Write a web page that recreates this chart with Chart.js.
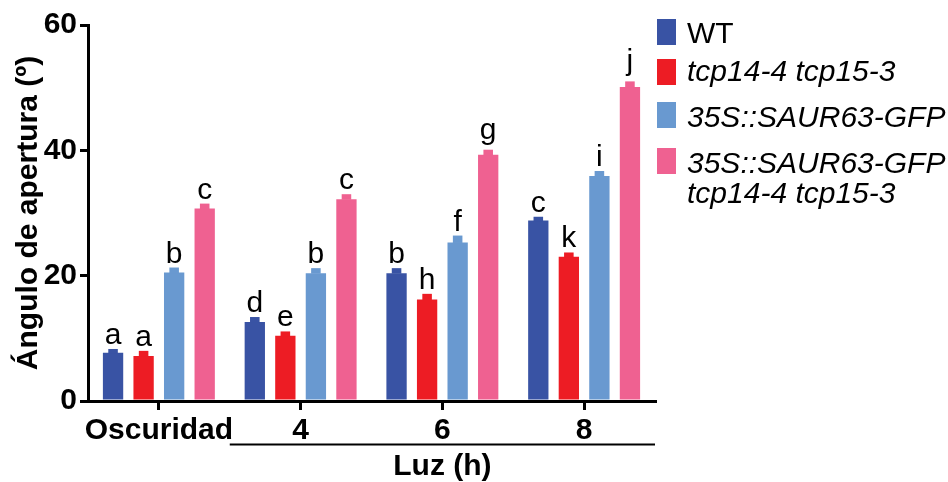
<!DOCTYPE html>
<html>
<head>
<meta charset="utf-8">
<script src="https://cdn.jsdelivr.net/npm/chart.js@4"></script>
<style>
  html, body { margin: 0; padding: 0; background: #fff; }
  #wrap { width: 948px; height: 482px; position: relative; }
</style>
</head>
<body>
<div id="wrap"><canvas id="bars"></canvas></div>
<script>
const categories = ["Oscuridad", "4", "6", "8"];

const wtValues = [7.7, 12.6, 20.4, 28.8];
const wtErr = [0.6, 0.8, 0.8, 0.6];
const wtLetters = ["a", "d", "b", "c"];

const tcpValues = [7.2, 10.4, 16.2, 23.0];
const tcpErr = [0.8, 0.7, 0.9, 0.7];
const tcpLetters = ["a", "e", "h", "k"];

const saurValues = [20.5, 20.4, 25.3, 35.9];
const saurErr = [0.8, 0.8, 1.1, 0.8];
const saurLetters = ["b", "b", "f", "i"];

const saurTcpValues = [30.7, 32.2, 39.3, 50.1];
const saurTcpErr = [0.8, 0.8, 0.8, 0.9];
const saurTcpLetters = ["c", "c", "g", "j"];

const legendLabels = [
  { lines: ["WT"], italic: false },
  { lines: ["tcp14-4 tcp15-3"], italic: true },
  { lines: ["35S::SAUR63-GFP"], italic: true },
  { lines: ["35S::SAUR63-GFP", "tcp14-4 tcp15-3"], italic: true },
];

const colors = ["#3953a4", "#ed1c24", "#6999d0", "#ef6191"];
const FONT = "'Liberation Sans', Arial, sans-serif";

const ctx = document.getElementById("bars");

function series(label, data, err, letters, i) {
  return {
    label,
    data,
    err,
    letters,
    backgroundColor: colors[i],
    borderWidth: 0,
    categoryPercentage: 0.862,
    barPercentage: 0.665,
  };
}

// caps of the error bars + significance letters
const marks = {
  id: "marks",
  afterDatasetsDraw(chart) {
    const c = chart.ctx;
    const y = chart.scales.y;
    c.save();
    chart.data.datasets.forEach((ds, i) => {
      chart.getDatasetMeta(i).data.forEach((bar, j) => {
        const v = ds.data[j];
        const top = y.getPixelForValue(v + ds.err[j]);
        const base = y.getPixelForValue(v);
        const hw = bar.width * 0.235;
        c.fillStyle = ds.backgroundColor;
        c.fillRect(bar.x - hw, top, hw * 2, base - top + 0.5);

        c.font = "30px " + FONT;
        c.fillStyle = "#000";
        c.textAlign = "center";
        c.textBaseline = "alphabetic";
        const m = c.measureText(ds.letters[j]);
        c.fillText(ds.letters[j], bar.x, top - 5 - m.actualBoundingBoxDescent);
      });
    });
    c.restore();
  },
};

// legend on the right and the "Luz (h)" bracket under the axis
const extras = {
  id: "extras",
  afterDraw(chart) {
    const c = chart.ctx;
    const x = chart.scales.x;
    const area = chart.chartArea;
    c.save();

    const lx = x.getPixelForValue(0.5);
    c.strokeStyle = "#000";
    c.lineWidth = 2;
    c.beginPath();
    c.moveTo(lx, 444.5);
    c.lineTo(area.right, 444.5);
    c.stroke();

    c.fillStyle = "#000";
    c.font = "bold 30px " + FONT;
    c.textAlign = "center";
    c.textBaseline = "middle";
    c.fillText("Luz (h)", (lx + area.right) / 2, 467);

    const boxTops = [19, 59, 102, 148];
    const baselines = [43, 81, 127, 173];
    c.textAlign = "left";
    c.textBaseline = "alphabetic";
    legendLabels.forEach((item, i) => {
      c.fillStyle = colors[i];
      c.fillRect(657, boxTops[i], 19, 26);
      c.fillStyle = "#000";
      c.font = (item.italic ? "italic " : "") + "30px " + FONT;
      item.lines.forEach((t, k) => c.fillText(t, 687, baselines[i] + k * 30));
    });
    c.restore();
  },
};

new Chart(ctx, {
  type: "bar",
  data: {
    labels: categories,
    datasets: [
      series("WT", wtValues, wtErr, wtLetters, 0),
      series("tcp14-4 tcp15-3", tcpValues, tcpErr, tcpLetters, 1),
      series("35S::SAUR63-GFP", saurValues, saurErr, saurLetters, 2),
      series("35S::SAUR63-GFP tcp14-4 tcp15-3", saurTcpValues, saurTcpErr, saurTcpLetters, 3),
    ],
  },
  options: {
    responsive: true,
    maintainAspectRatio: false,
    animation: false,
    layout: { padding: { top: 25, right: 293, bottom: 0, left: 0 } },
    plugins: { legend: { display: false }, tooltip: { enabled: false } },
    scales: {
      x: {
        afterFit: (s) => { s.height = 81; },
        grid: {
          offset: false,
          drawOnChartArea: false,
          tickLength: 9,
          lineWidth: 3,
          color: "#000",
        },
        border: { width: 3, color: "#000" },
        ticks: {
          color: "#000",
          padding: 3,
          autoSkip: false,
          maxRotation: 0,
          font: { family: FONT, size: 30, weight: "bold" },
        },
      },
      y: {
        min: 0,
        max: 60,
        afterFit: (s) => { s.width = 88; },
        grid: {
          drawOnChartArea: false,
          tickLength: 8,
          lineWidth: 3,
          color: "#000",
        },
        border: { width: 3, color: "#000" },
        ticks: {
          stepSize: 20,
          color: "#000",
          padding: 3,
          font: { family: FONT, size: 30, weight: "bold" },
        },
        title: {
          display: true,
          text: "Ángulo de apertura (º)",
          color: "#000",
          padding: { top: 11, bottom: 0 },
          font: { family: FONT, size: 30, weight: "bold" },
        },
      },
    },
  },
  plugins: [marks, extras],
});
</script>
</body>
</html>
